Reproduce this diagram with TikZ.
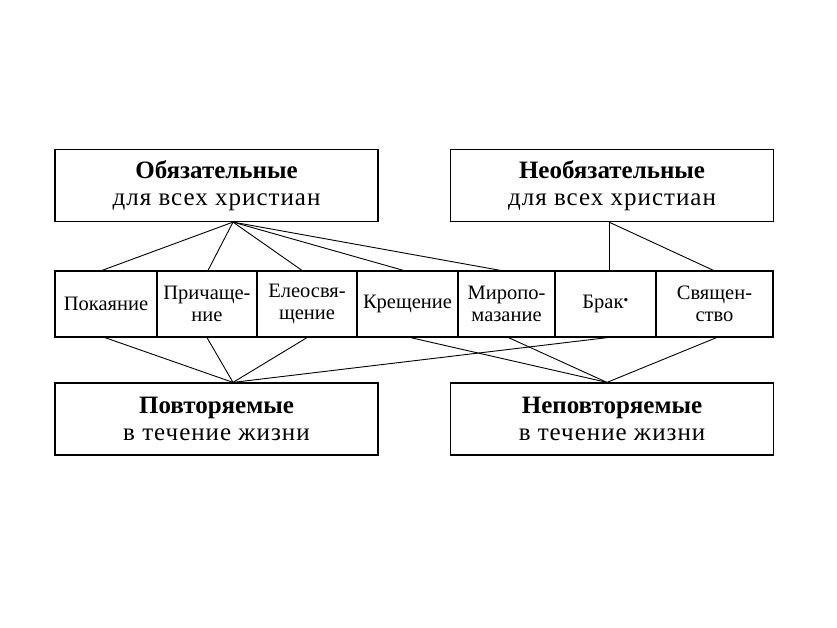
\documentclass[tikz,border=0pt]{standalone}
\usepackage{fontspec}
\setmainfont{Liberation Serif}
\newcommand\spaced{\addfontfeatures{LetterSpace=4}}
\begin{document}
\begin{tikzpicture}[x=1pt,y=-1pt,
  bigbox/.style={draw,line width=1.2pt,minimum width=323pt,minimum height=72pt,inner sep=0pt,align=center,font=\fontsize{25}{27}\selectfont},
  cell/.style={draw,line width=1.2pt,minimum height=66pt,inner sep=0pt,align=center,font=\fontsize{20.5}{21.5}\selectfont},
  link/.style={line width=0.9pt}]
\useasboundingbox (0,0) rectangle (837,627);
\node[bigbox] (obl) at (216.5,185.5) {\textbf{Обязательные}\\{\spaced для всех христиан}};
\node[bigbox] (neobl) at (612,185.5) {\textbf{Необязательные}\\{\spaced для всех христиан}};
\node[cell,minimum width=102pt] (pok) at (106,304) {Покаяние};
\node[cell,minimum width=100pt] (prich) at (207,304) {Причаще-\\ние};
\node[cell,minimum width=100pt] (eleo) at (307,304) {Елеосвя-\\щение};
\node[cell,minimum width=101pt] (kresh) at (407.5,304) {Крещение};
\node[cell,minimum width=97pt] (mir) at (506.5,304) {Миропо-\\мазание};
\node[cell,minimum width=101pt] (brak) at (605.5,304) {Брак\raisebox{0.7ex}{\textbf{.}}};
\node[cell,minimum width=117pt] (svyash) at (714.5,304) {Священ-\\ство};
\node[bigbox] (povt) at (216.5,419) {\textbf{Повторяемые}\\{\spaced в течение жизни}};
\node[bigbox] (nepovt) at (612,419) {\textbf{Неповторяемые}\\{\spaced в течение жизни}};
\coordinate (oblhub) at ([xshift=16.5]obl.south);
\coordinate (neoblhub) at ([xshift=-3]neobl.south);
\coordinate (povthub) at ([xshift=16.5]povt.north);
\coordinate (nepovthub) at ([xshift=-5]nepovt.north);

\foreach \n/\dx in {pok/-4,prich/1,eleo/-5,kresh/-4,mir/-6}
  \draw[link](oblhub)--([xshift=\dx]\n.north);
\draw[link](neoblhub)--(neoblhub|-brak.north);
\draw[link](neoblhub)--([xshift=-1]svyash.north);
\foreach \n/\dx in {pok/-1,prich/0,eleo/0,brak/2}
  \draw[link](povthub)--([xshift=\dx]\n.south);
\foreach \n/\dx in {kresh/3,mir/2,svyash/2}
  \draw[link](nepovthub)--([xshift=\dx]\n.south);
\end{tikzpicture}
\end{document}
